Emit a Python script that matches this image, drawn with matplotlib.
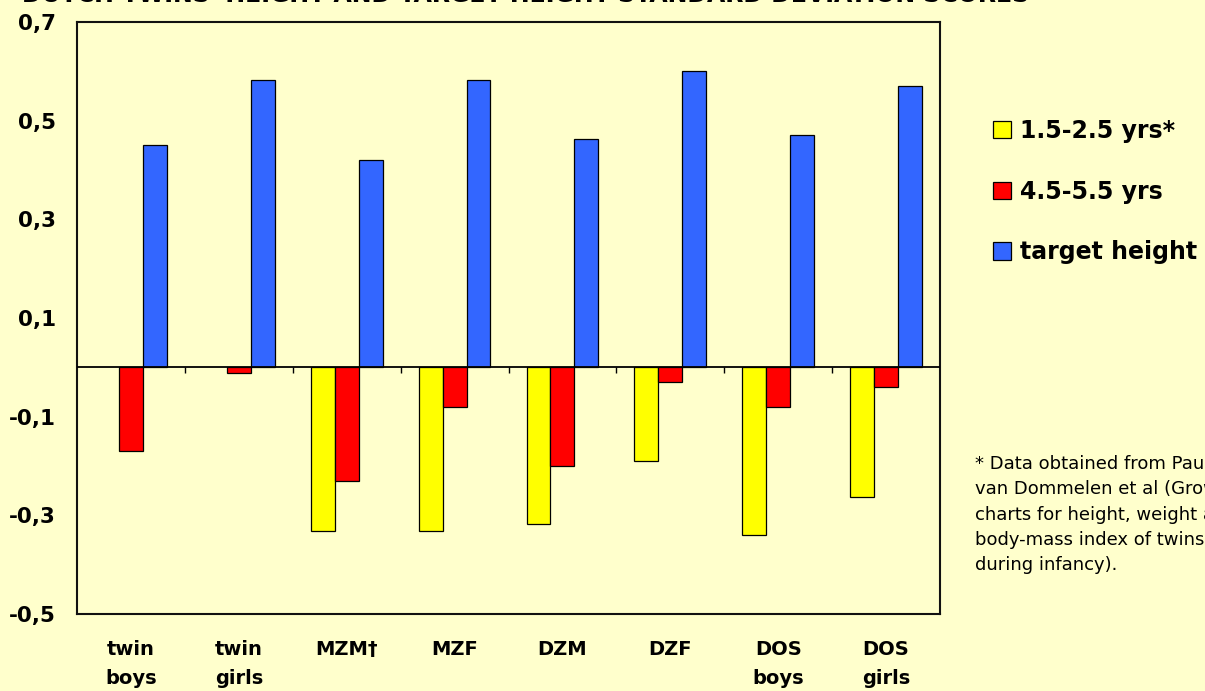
import matplotlib
matplotlib.use("Agg")
import matplotlib.pyplot as plt
import numpy as np

categories = ["twin\nboys", "twin\ngirls", "MZM\u2020", "MZF", "DZM", "DZF", "DOS\nboys", "DOS\ngirls"]
series_names = ["1.5-2.5 yrs*", "4.5-5.5 yrs", "target height"]
yrs_1_5_2_5 = [np.nan, np.nan, -0.331, -0.331, -0.318, -0.189, -0.339, -0.262]
yrs_4_5_5_5 = [-0.170, -0.012, -0.231, -0.081, -0.199, -0.030, -0.081, -0.039]
target_height = [0.450, 0.582, 0.420, 0.582, 0.462, 0.600, 0.470, 0.570]
yticks = [0.7, 0.5, 0.3, 0.1, -0.1, -0.3, -0.5]
ytick_labels = ["0,7", "0,5", "0,3", "0,1", "-0,1", "-0,3", "-0,5"]
title = "DUTCH TWINS' HEIGHT AND TARGET HEIGHT STANDARD DEVIATION SCORES"
footnote = ("* Data obtained from Paula\nvan Dommelen et al (Growth\ncharts for height, weight and\n"
            "body-mass index of twins\nduring infancy).")

bg = "#FFFFCC"
colors = ["#FFFF00", "#FF0000", "#3366FF"]

plt.rcParams['font.family'] = ['DejaVu Sans']

fig = plt.figure(figsize=(12.05, 6.91), dpi=100, facecolor=bg)
ax = fig.add_axes([77/1205, 1-614/691, (940-77)/1205, (614-22)/691])
ax.set_facecolor(bg)

x = np.arange(len(categories))
w = 0.222
for i, (vals, c, name) in enumerate(zip([yrs_1_5_2_5, yrs_4_5_5_5, target_height], colors, series_names)):
    ax.bar(x + (i-1)*w, vals, width=w, color=c, edgecolor="black", linewidth=0.9, label=name, zorder=2)

ax.set_xlim(-0.5, len(categories)-0.5)
ax.set_ylim(-0.5, 0.7)
ax.axhline(0, color="black", linewidth=1.3, zorder=3)
bounds = np.arange(0.5, len(categories)-0.5, 1.0)
ax.vlines(bounds, -0.012, 0, color="black", linewidth=1.0, zorder=3)

ax.set_yticks(yticks)
ax.set_yticklabels(ytick_labels, fontsize=15.5, fontweight="bold")
ax.tick_params(axis="y", length=0, pad=15)
ax.set_xticks(x)
ax.set_xticklabels(categories, fontsize=14, fontweight="bold", linespacing=1.65)
ax.tick_params(axis="x", length=0, pad=19)
for lab in ax.get_xticklabels():
    lab.set_verticalalignment("top")

for s in ax.spines.values():
    s.set_linewidth(1.5)
    s.set_color("#111111")

leg = fig.legend(loc="upper left", bbox_to_anchor=(993/1205, 1-119/691), frameon=False,
                 prop={"weight": "bold", "size": 17}, labelspacing=1.55, handlelength=0.76,
                 handleheight=0.76, handletextpad=0.38, borderpad=0, borderaxespad=0)

fig.text(22/1205, 1-2/691, title, fontsize=17, fontweight="bold", va="baseline", ha="left")
fig.text(975/1205, 1-455/691, footnote, fontsize=13, va="top", ha="left", linespacing=1.52)

fig.savefig("out.png", dpi=100, facecolor=bg)
